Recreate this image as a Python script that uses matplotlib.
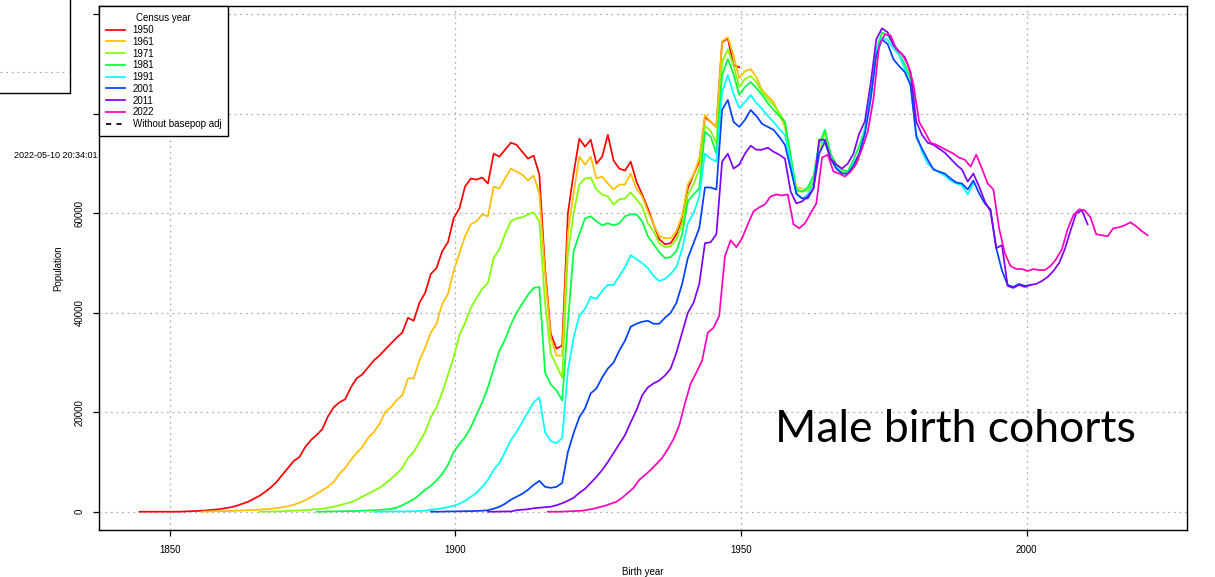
import numpy as np
import matplotlib
matplotlib.use('Agg')
import matplotlib.pyplot as plt
from matplotlib.lines import Line2D
from matplotlib.patches import Rectangle

plt.rcParams['font.family'] = ['Liberation Sans', 'DejaVu Sans']

# census years and their colours (R rainbow(8))
census = ['1950', '1961', '1971', '1981', '1991', '2001', '2011', '2022']
colors = ['#FF0000', '#FFBF00', '#80FF00', '#00FF40', '#00FFFF', '#0040FF', '#8000FF', '#FF00BF']
# birth year of the oldest cohort in each census
first_year = [1844.7, 1855.7, 1865.7, 1875.7, 1885.7, 1895.7, 1905.7, 1916.2]

# population by birth cohort, thousands
pop_1950 = [0, 0, 0, 0, 0, 0, 0, 0,
            0.05, 0.1, 0.15, 0.2, 0.3, 0.4, 0.5, 0.7,
            0.9, 1.2, 1.6, 2.0, 2.6, 3.2, 4.0, 4.9, 6.0, 7.4,
            8.8, 10.2, 11.0, 13.0, 14.4, 15.4, 16.6, 19.2, 21.0, 22.0,
            22.6, 25.0, 26.8, 27.6, 29.0, 30.4, 31.4, 32.6, 33.8, 35.0,
            36.0, 39.0, 38.4, 42.0, 44.0, 47.8, 49.0, 52.4, 54.2, 59.0,
            61.0, 65.4, 67.0, 66.8, 67.2, 66.0, 72.0, 71.4, 72.8, 74.2,
            73.8, 72.4, 71.0, 71.6, 67.8, 49.0, 35.8, 32.8, 33.4, 60.0,
            68.0, 75.0, 73.4, 74.8, 70.0, 71.4, 75.8, 70.6, 69.0, 68.6,
            70.4, 66.4, 63.8, 61.0, 57.8, 54.8, 53.8, 54.0, 55.8, 59.0,
            65.0, 67.8, 70.4, 79.4, 78.4, 77.4, 94.4, 95.2, 89.8, 89.4]
pop_1961 = [0, 0.05, 0.05, 0.1, 0.1,
            0.15, 0.2, 0.25, 0.3, 0.35, 0.4, 0.5, 0.6, 0.7, 0.9,
            1.1, 1.4, 1.8, 2.3, 2.9, 3.6, 4.3, 5.0, 6.0, 7.6,
            8.8, 10.4, 11.8, 13.0, 14.8, 16.0, 17.6, 20.0, 21.0, 22.4,
            23.4, 26.8, 26.8, 30.4, 33.0, 36.0, 37.8, 41.8, 43.8, 48.4,
            52.0, 55.4, 57.8, 58.4, 59.8, 59.4, 65.4, 65.0, 67.0, 69.0,
            68.4, 67.8, 66.6, 67.6, 64.0, 48.0, 35.0, 31.4, 31.4, 56.0,
            64.0, 71.4, 69.8, 71.4, 67.0, 67.4, 66.0, 64.8, 65.8, 65.8,
            68.0, 65.0, 63.4, 60.4, 57.8, 55.4, 55.0, 55.0, 56.4, 59.6,
            65.8, 67.8, 71.0, 79.8, 78.4, 77.4, 94.6, 95.4, 91.8, 87.2,
            88.6, 89.0, 87.4, 84.8, 83.6, 82.4, 80.0, 77.4, 70.4, 65.2,
            65.0]
pop_1971 = [0, 0, 0.05, 0.05, 0.1,
            0.15, 0.2, 0.25, 0.3, 0.4, 0.5, 0.6, 0.8, 1.0, 1.3,
            1.6, 1.9, 2.4, 3.0, 3.6, 4.2, 4.8, 5.6, 6.6, 7.6,
            8.8, 10.8, 12.0, 14.0, 16.0, 19.0, 21.0, 24.0, 27.5, 31.0,
            35.5, 38.0, 41.0, 43.0, 44.8, 46.0, 51.0, 52.8, 55.8, 58.4,
            59.0, 59.2, 59.8, 60.2, 58.4, 42.0, 31.8, 29.4, 27.0, 52.0,
            60.0, 65.8, 67.0, 67.2, 64.8, 63.8, 63.4, 61.8, 62.8, 63.0,
            64.2, 62.8, 61.4, 58.0, 56.4, 54.0, 53.2, 53.4, 54.8, 57.8,
            63.8, 65.8, 69.0, 77.6, 76.6, 74.0, 90.4, 93.0, 89.8, 85.4,
            87.0, 87.6, 86.4, 84.4, 83.0, 81.8, 80.2, 78.4, 69.8, 64.4,
            64.4, 64.6, 66.5, 72.0, 76.4, 71.0, 69.0, 68.4, 68.0, 69.0,
            71.0]
pop_1981 = [0, 0, 0.05, 0.05, 0.1,
            0.1, 0.12, 0.15, 0.2, 0.25, 0.3, 0.35, 0.45, 0.55, 0.8,
            1.3, 1.9, 2.5, 3.4, 4.4, 5.2, 6.3, 7.6, 9.4, 12.0,
            13.6, 15.0, 17.0, 19.5, 22.0, 25.0, 28.8, 32.4, 34.6, 37.6,
            40.0, 41.8, 43.6, 45.0, 45.2, 28.0, 25.6, 24.4, 22.4, 38.0,
            52.4, 55.8, 59.0, 59.4, 58.4, 57.6, 58.0, 57.6, 58.0, 59.4,
            59.8, 59.8, 58.4, 55.4, 53.8, 52.2, 51.0, 51.2, 52.4, 55.8,
            62.4, 63.8, 65.0, 76.4, 75.4, 72.0, 87.8, 91.0, 88.0, 83.8,
            85.4, 86.4, 85.2, 83.8, 82.2, 80.8, 79.6, 78.4, 71.8, 64.8,
            64.4, 65.2, 67.5, 74.0, 76.8, 72.0, 69.8, 68.8, 68.4, 70.8,
            73.5, 77.0, 83.5, 93.0, 96.4, 95.8, 94.0, 92.0, 90.0, 87.0,
            82.0]
pop_1991 = [0, 0, 0.02, 0.05, 0.05,
            0.05, 0.08, 0.1, 0.15, 0.2, 0.4, 0.5, 0.7, 0.9, 1.2,
            1.6, 2.2, 3.0, 3.8, 5.0, 6.4, 8.4, 9.8, 12.0, 14.4,
            16.0, 18.0, 20.0, 22.0, 23.0, 16.0, 14.2, 13.8, 14.8, 28.4,
            35.0, 39.4, 40.8, 43.2, 42.8, 44.4, 45.6, 45.6, 47.4, 49.2,
            51.6, 50.8, 50.0, 49.0, 47.4, 46.4, 46.8, 47.8, 49.2, 52.8,
            58.0, 60.0, 63.4, 72.0, 71.0, 70.4, 84.4, 87.8, 84.0, 81.2,
            82.4, 83.8, 82.2, 81.0, 79.6, 78.4, 77.0, 75.8, 70.4, 63.8,
            63.0, 63.8, 66.0, 74.4, 74.4, 71.0, 69.4, 68.0, 68.0, 70.0,
            71.8, 76.8, 84.0, 93.0, 95.4, 94.8, 93.2, 91.8, 89.0, 85.6,
            76.0, 72.4, 70.0, 69.0, 68.2, 67.6, 66.6, 66.0, 65.6, 63.8,
            66.0]
pop_2001 = [0, 0, 0.02, 0.05, 0.05,
            0.08, 0.1, 0.12, 0.15, 0.2, 0.3, 0.6, 1.0, 1.6, 2.4,
            3.0, 3.6, 4.4, 5.4, 6.2, 5.0, 4.8, 5.0, 5.8, 12.0,
            15.8, 19.0, 20.8, 23.8, 24.8, 27.0, 28.8, 30.0, 32.4, 34.4,
            37.2, 37.8, 38.2, 38.4, 37.8, 37.8, 39.0, 40.0, 42.0, 45.8,
            51.0, 54.0, 57.0, 65.2, 65.2, 64.8, 80.8, 82.8, 78.4, 77.4,
            78.8, 80.8, 79.6, 78.0, 77.4, 76.8, 75.4, 73.8, 69.0, 64.0,
            63.0, 63.0, 65.0, 72.0, 74.4, 71.0, 69.0, 68.0, 68.0, 69.6,
            72.0, 76.0, 82.8, 91.8, 95.0, 94.0, 91.0, 89.6, 88.4, 85.8,
            75.4, 73.0, 70.8, 68.8, 68.4, 68.0, 67.0, 66.2, 66.0, 64.8,
            66.6, 64.0, 62.0, 60.8, 53.0, 48.5, 45.6, 45.2, 45.8, 45.4,
            45.6]
pop_2011 = [0, 0, 0.02, 0.05, 0.05,
            0.3, 0.4, 0.5, 0.7, 0.8, 0.9, 1.0, 1.3, 1.7, 2.2,
            2.8, 3.8, 4.6, 5.8, 7.0, 8.4, 10.0, 11.8, 13.6, 15.4,
            18.0, 20.4, 23.4, 25.0, 25.8, 26.4, 27.4, 28.8, 32.0, 36.0,
            40.0, 42.0, 45.8, 54.0, 54.2, 55.8, 70.4, 72.0, 69.0, 69.8,
            72.0, 73.6, 72.8, 72.8, 73.2, 72.4, 71.8, 71.0, 64.4, 62.0,
            62.4, 63.4, 65.0, 74.8, 74.8, 71.0, 69.8, 69.0, 70.0, 72.0,
            76.0, 78.5, 86.0, 95.0, 97.2, 96.4, 93.8, 92.6, 91.4, 88.4,
            78.4, 75.8, 74.2, 73.8, 73.0, 72.2, 71.0, 69.8, 68.8, 66.4,
            68.0, 65.4, 62.4, 60.4, 53.0, 53.6, 45.4, 45.0, 45.6, 45.2,
            45.6, 45.8, 46.4, 47.2, 48.4, 50.0, 52.8, 56.5, 60.0, 60.6,
            57.8]
pop_2022 = [0, 0, 0, 0.05,
            0.1, 0.15, 0.2, 0.4, 0.6, 0.9, 1.2, 1.6, 2.0, 2.8,
            3.8, 4.8, 6.4, 7.4, 8.4, 9.6, 10.8, 12.6, 14.6, 17.4,
            21.8, 25.8, 28.0, 30.4, 36.0, 37.0, 39.4, 51.4, 54.6, 53.2,
            55.0, 57.8, 60.4, 61.2, 61.8, 63.4, 63.8, 63.6, 63.8, 57.8,
            57.0, 58.0, 60.0, 62.0, 71.2, 71.8, 68.4, 68.0, 67.4, 68.4,
            70.0, 73.0, 76.4, 83.0, 93.8, 96.0, 95.8, 93.0, 92.0, 90.0,
            86.0, 78.4, 76.4, 74.2, 73.8, 73.2, 72.6, 72.0, 71.2, 70.8,
            69.4, 71.8, 69.0, 66.0, 64.8, 57.0, 52.0, 49.4, 48.8, 48.8,
            48.4, 48.8, 48.6, 48.6, 49.4, 50.8, 52.8, 56.8, 59.6, 60.8,
            60.6, 59.2, 55.8, 55.6, 55.4, 57.0, 57.2, 57.6, 58.2, 57.4,
            56.4, 55.6]

series = [pop_1950, pop_1961, pop_1971, pop_1981, pop_1991, pop_2001, pop_2011, pop_2022]

W, H = 1215, 577
fig = plt.figure(figsize=(W / 100, H / 100), dpi=100)
ax = fig.add_axes([99 / W, 1 - 530 / H, (1187 - 99) / W, (530 - 6) / H])

for vals, start, col, lab in zip(series, first_year, colors, census):
    vals = np.array(vals) * 1000
    years = start + np.arange(len(vals))
    ax.plot(years, vals, color=col, lw=1.25, label=lab)

ax.set_xlim(1837.6, 2028.1)
ax.set_ylim(-3680, 101700)
ax.set_xticks([1850, 1900, 1950, 2000])
ax.set_yticks([0, 20000, 40000, 60000, 80000, 100000])
ax.set_yticklabels(['0', '20000', '40000', '60000', '', ''])
ax.grid(True, color='#b0b0b0', linestyle=(0, (1.5, 3)), linewidth=0.9)
ax.set_axisbelow(True)
for s in ax.spines.values():
    s.set_linewidth(1.0)
ax.tick_params(direction='out', length=4.5, width=0.9, labelsize=7, pad=6)
for lbl in ax.get_yticklabels():
    lbl.set_rotation(90)
    lbl.set_va('center')

fig.text(58 / W, 1 - 268 / H, 'Population', rotation=90, fontsize=7, ha='center', va='center')
fig.text(643 / W, 1 - 572 / H, 'Birth year', fontsize=7, ha='center', va='center')
fig.text(97 / W, 1 - 155 / H, '2022-05-10 20:34:01', fontsize=6.5, ha='right', va='center')

handles = [Line2D([], [], color=c, lw=1.25) for c in colors]
handles.append(Line2D([], [], color='black', lw=1.25, ls=(0, (3, 3))))
leg = ax.legend(handles, census + ['Without basepop adj'], title='Census year',
                loc='upper left', bbox_to_anchor=(0, 1), borderaxespad=0.05,
                fontsize=7, title_fontsize=7, fancybox=False, framealpha=1,
                edgecolor='black', handlelength=1.9, handletextpad=0.8,
                labelspacing=0.18, borderpad=0.7)
leg.get_frame().set_linewidth(1.0)

fig.text(775 / W, 1 - 429 / H, 'Male birth cohorts', fontsize=32, family='Lato',
         ha='left', va='center')

# fragment of another panel at the top left corner
fig.add_artist(Rectangle((0, 1 - 93 / H), 70 / W, 93 / H, transform=fig.transFigure,
                         facecolor='white', edgecolor='none'))
fig.add_artist(Line2D([0, 68 / W], [1 - 72 / H] * 2, transform=fig.transFigure,
                      color='#b0b0b0', linestyle=(0, (1.5, 3)), linewidth=0.9))
fig.add_artist(Line2D([0, 70 / W, 70 / W], [1 - 93 / H, 1 - 93 / H, 1], transform=fig.transFigure,
                      color='black', linewidth=1.0))

fig.savefig('out.png', dpi=100)
